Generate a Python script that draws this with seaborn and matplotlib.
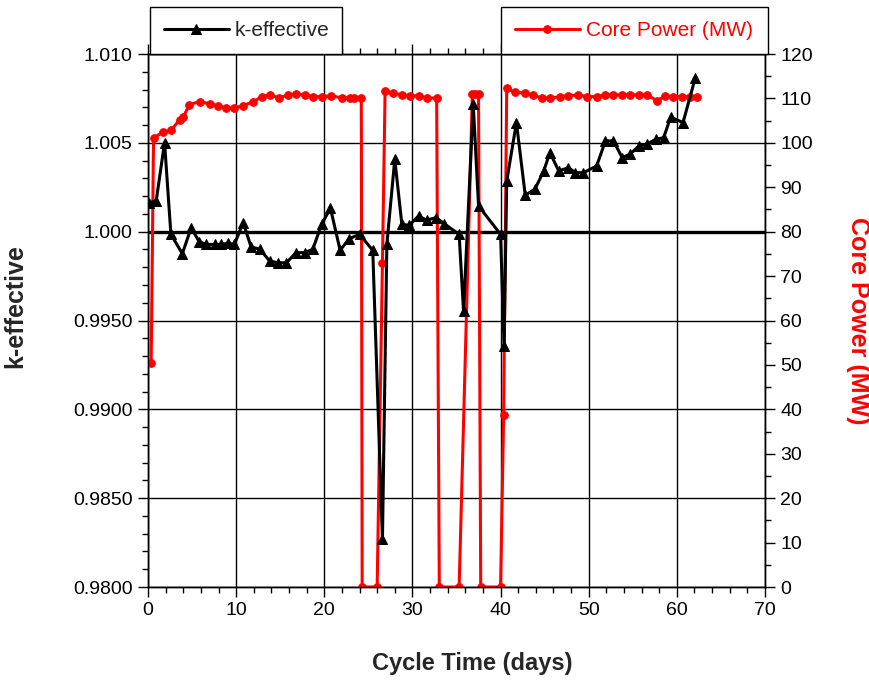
import matplotlib
matplotlib.use("Agg")
import matplotlib.pyplot as plt
from matplotlib.ticker import MultipleLocator, FixedLocator, FixedFormatter
import seaborn as sns
import pandas as pd

# k-effective versus cycle time
keff_days = [0.17, 0.93, 1.88, 2.6, 3.9, 4.9, 5.8, 6.6, 7.55, 8.3, 9.1, 9.8,
             10.8, 11.7, 12.7, 13.8, 14.75, 15.7, 16.8, 17.8, 18.7, 19.7, 20.7,
             21.8, 22.8, 24.0, 25.5, 26.6, 27.1, 28.0, 28.8, 29.6, 30.7, 31.6,
             32.7, 33.6, 35.3, 35.8, 36.9, 37.5, 40.0, 40.4, 40.7, 41.8, 42.8,
             43.9, 44.9, 45.6, 46.6, 47.7, 48.5, 49.4, 50.9, 51.9, 52.8, 53.8,
             54.7, 55.7, 56.6, 57.6, 58.5, 59.3, 60.7, 62.1]
keff_vals = [1.00163, 1.00173, 1.00501, 0.99985, 0.99876, 1.00023, 0.99944,
             0.99928, 0.99928, 0.99928, 0.99935, 0.99928, 1.00051, 0.99914,
             0.99901, 0.99835, 0.99825, 0.99825, 0.99882, 0.99882, 0.99901,
             1.00042, 1.00132, 0.99895, 0.99960, 0.99985, 0.99895, 0.98268,
             0.99930, 1.00408, 1.00042, 1.00035, 1.00088, 1.00065, 1.00079,
             1.00045, 0.99985, 0.99553, 1.00717, 1.00145, 0.99985, 0.99357,
             1.00285, 1.00614, 1.00205, 1.00239, 1.00342, 1.00445, 1.00342,
             1.00360, 1.00332, 1.00332, 1.00370, 1.00511, 1.00511, 1.00417,
             1.00436, 1.00483, 1.00492, 1.00520, 1.00529, 1.00645, 1.00614,
             1.00867]

# Core power versus cycle time
power_days = [0.36, 0.63, 1.7, 2.6, 3.6, 4.0, 4.7, 5.85, 7.0, 7.95, 8.9, 9.8,
              10.8, 11.9, 12.9, 13.8, 14.9, 15.9, 16.8, 17.8, 18.7, 19.7, 20.8,
              22.0, 22.9, 23.4, 24.2, 24.3, 26.0, 26.6, 26.9, 27.8, 28.8, 29.7,
              30.7, 31.6, 32.75, 33.05, 35.3, 36.8, 37.1, 37.5, 37.75, 40.0,
              40.35, 40.7, 41.6, 42.8, 43.7, 44.7, 45.6, 46.8, 47.7, 48.8, 49.8,
              50.9, 51.9, 52.8, 53.8, 54.7, 55.7, 56.6, 57.75, 58.7, 59.6, 60.6,
              61.5, 62.3]
power_vals = [50.5, 101.0, 102.5, 102.8, 105.2, 105.8, 108.6, 109.3, 108.8,
              108.3, 107.8, 107.8, 108.4, 109.2, 110.4, 110.8, 110.1, 110.8,
              111.0, 110.8, 110.4, 110.4, 110.6, 110.1, 110.2, 110.0, 110.0, 0.0,
              0.0, 73.0, 111.6, 111.2, 110.8, 110.6, 110.6, 110.1, 110.1, 0.0,
              0.0, 111.0, 111.0, 111.0, 0.0, 0.0, 38.7, 112.3, 111.4, 111.2,
              110.7, 110.1, 110.1, 110.4, 110.6, 110.8, 110.4, 110.4, 110.8,
              110.8, 110.8, 110.8, 110.8, 110.8, 109.5, 110.6, 110.4, 110.4,
              110.4, 110.4]

x_ticks = [0, 10, 20, 30, 40, 50, 60, 70]
keff_ticks = [0.980, 0.985, 0.990, 0.995, 1.000, 1.005, 1.010]
keff_tick_labels = ["0.9800", "0.9850", "0.9900", "0.9950", "1.000", "1.005", "1.010"]
power_ticks = list(range(0, 121, 10))

keff_df = pd.DataFrame({"day": keff_days, "keff": keff_vals})
power_df = pd.DataFrame({"day": power_days, "power": power_vals})

sns.set_style("white")
plt.rcParams["font.family"] = ["Liberation Sans", "DejaVu Sans"]

fig = plt.figure(figsize=(8.7, 6.81), dpi=100)
rect = [0.1701, 0.138, 0.7092, 0.7827]
ax = fig.add_axes(rect)
ax2 = ax.twinx()
ax3 = fig.add_axes(rect, sharex=ax, sharey=ax, frameon=False)
ax3.set_axis_off()
ax.set_zorder(0)
ax2.set_zorder(1)
ax3.set_zorder(2)
ax2.patch.set_visible(False)

# grid and reference line at k = 1
ax.set_xlim(0, 70)
ax.set_ylim(0.980, 1.010)
ax.grid(True, which="major", color="black", linewidth=1.0)
ax.axhline(1.0, color="black", linewidth=2.4, zorder=1.5)

# power on the right axis
sns.lineplot(data=power_df, x="day", y="power", ax=ax2, color="red",
             marker="o", markersize=5.5, markeredgecolor="red",
             linewidth=2.2, estimator=None, sort=False, legend=False)
ax2.set_ylim(0, 120)

# k-effective on top
sns.lineplot(data=keff_df, x="day", y="keff", ax=ax3, color="black",
             marker="^", markersize=7.5, markeredgecolor="black",
             linewidth=2.2, estimator=None, sort=False, legend=False)
ax3.set_xlim(0, 70)
ax3.set_ylim(0.980, 1.010)

# ticks
ax.xaxis.set_major_locator(FixedLocator(x_ticks))
ax.xaxis.set_minor_locator(MultipleLocator(2))
ax.yaxis.set_major_locator(FixedLocator(keff_ticks))
ax.yaxis.set_major_formatter(FixedFormatter(keff_tick_labels))
ax.yaxis.set_minor_locator(MultipleLocator(0.001))
ax.tick_params(axis="x", which="both", direction="out", top=True, bottom=True,
               colors="black", labelsize=14, pad=4)
ax.tick_params(axis="y", which="both", direction="out", left=True, right=False,
               colors="black", labelsize=14, pad=4)
ax.tick_params(which="major", length=7, width=1)
ax.tick_params(which="minor", length=4, width=1)

ax2.yaxis.set_major_locator(FixedLocator(power_ticks))
ax2.yaxis.set_minor_locator(MultipleLocator(5))
ax2.tick_params(axis="y", which="both", direction="out", right=True,
                colors="black", labelsize=14, pad=4)
ax2.tick_params(which="major", length=7, width=1)
ax2.tick_params(which="minor", length=4, width=1)

for a in (ax, ax2):
    for s in a.spines.values():
        s.set_color("black")
        s.set_linewidth(1.0)

# axis labels
ax.set_xlabel("Cycle Time (days)", fontsize=17, fontweight="bold")
ax.xaxis.set_label_coords(0.525, -0.122)
ax.set_ylabel("k-effective", fontsize=18, fontweight="bold")
ax.yaxis.set_label_coords(-0.196, 0.527)
ax2.set_ylabel("Core Power (MW)", fontsize=18, fontweight="bold", color="red",
               rotation=270, va="center")
ax2.yaxis.set_label_coords(1.151, 0.5)

# legends above the plot
h_keff = ax3.get_lines()[0]
h_pow = ax2.get_lines()[0]
leg_kw = dict(loc="lower left", mode="expand", frameon=True, fancybox=False,
              edgecolor="black", framealpha=1, fontsize=15, handlelength=3.1,
              handletextpad=0.3, borderpad=0.68, borderaxespad=0,
              numpoints=1)
leg1 = fig.legend([h_keff], ["k-effective"],
                  bbox_to_anchor=(150 / 870, 1 - 54 / 681, 192 / 870, 0.06),
                  **leg_kw)
leg1.get_frame().set_linewidth(1.0)
leg2 = fig.legend([h_pow], ["Core Power (MW)"],
                  bbox_to_anchor=(501 / 870, 1 - 54 / 681, 267 / 870, 0.06),
                  **leg_kw)
leg2.get_frame().set_linewidth(1.0)
for t in leg2.get_texts():
    t.set_color("red")

fig.savefig("out.png", dpi=100)
